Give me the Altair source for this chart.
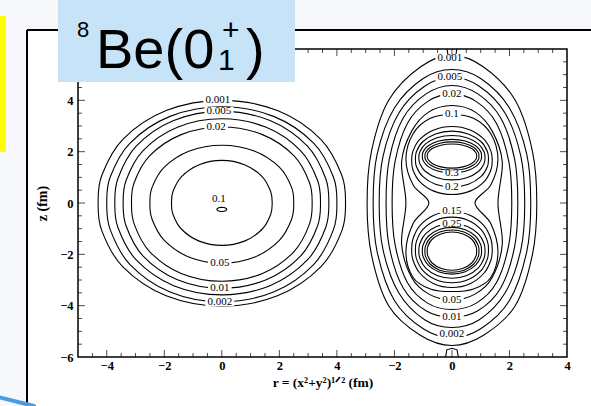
import altair as alt
import pandas as pd
import numpy as np

# ---------------- contour data (fm) ----------------
# left panel: near-elliptical contours, (level, half-width, top z, bottom z)
left_levels = ["0.001", "0.002", "0.005", "0.01", "0.02", "0.05", "0.1"]
left_halfwidth = [4.30, 4.00, 3.72, 3.43, 3.14, 2.50, 1.75]
left_top = [4.00, 3.75, 3.57, 3.28, 2.96, 2.25, 1.66]
left_bottom = [-4.02, -3.85, -3.58, -3.32, -3.05, -2.35, -1.65]

# right panel: outer contours, right half from top to bottom (x, z)
right_outer = {
    "0.001": [(0, 5.75), (1.1, 5.3), (2.2, 4.0), (2.8, 2.0), (2.95, 0), (2.8, -2.0), (2.2, -4.0), (1.1, -5.15), (0, -5.55)],
    "0.002": [(0, 5.2), (1.0, 4.85), (2.0, 3.7), (2.6, 1.9), (2.74, 0), (2.6, -1.9), (2.0, -3.8), (1.0, -4.9), (0, -5.25)],
    "0.005": [(0, 4.9), (0.95, 4.55), (1.85, 3.5), (2.4, 1.8), (2.53, 0), (2.4, -1.8), (1.85, -3.5), (0.95, -4.55), (0, -4.85)],
    "0.01": [(0, 4.58), (0.9, 4.25), (1.7, 3.3), (2.18, 1.7), (2.29, 0), (2.18, -1.7), (1.7, -3.3), (0.9, -4.2), (0, -4.45)],
    "0.02": [(0, 4.25), (0.85, 3.95), (1.55, 3.1), (1.98, 1.6), (2.08, 0), (1.98, -1.6), (1.55, -3.1), (0.85, -3.9), (0, -4.15)],
    "0.05": [(0, 3.8), (0.8, 3.55), (1.4, 2.8), (1.75, 1.6), (1.6, 0), (1.75, -1.6), (1.4, -2.9), (0.8, -3.55), (0, -3.78)],
    "0.1": [(0, 3.45), (0.75, 3.3), (1.35, 2.7), (1.6, 1.7), (1.35, 0.7), (0.8, 0), (1.35, -0.8), (1.6, -1.9), (1.35, -2.9), (0.75, -3.35), (0, -3.45)],
}

# right panel: closed rings around the two alpha clusters (top z, bottom z, half-width)
ring_levels = ["0.15", "0.2", "0.25", "0.3", "0.35", "0.4"]
upper_top = [2.98, 2.80, 2.63, 2.48, 2.38, 2.30]
upper_bottom = [0.33, 0.62, 0.90, 1.17, 1.27, 1.36]
lower_top = [-0.33, -0.55, -0.80, -0.95, -1.05, -1.13]
lower_bottom = [-3.29, -3.11, -2.93, -2.77, -2.70, -2.62]
ring_halfwidth = [1.40, 1.27, 1.15, 1.03, 0.94, 0.86]

# small fragments touching the top and bottom edges of the right panel
edge_bits = {
    "top": [(0.17, 6.0), (0.14, 5.78), (0, 5.72), (-0.14, 5.78), (-0.17, 6.0)],
    "bottom": [(0.22, -6.0), (0.18, -5.72), (0, -5.66), (-0.18, -5.72), (-0.22, -6.0)],
}
# tiny peak contour at the centre of the left panel (x, z, half-width, half-height)
peak = (0.0, -0.25, 0.17, 0.08)

# right panel is drawn after the left one on a shared axis
right_shift = 8.0

# contour labels: (text, x, z) ; right-panel x before shifting
left_labels = [("0.001", -0.14, 4.0), ("0.005", -0.1, 3.57), ("0.02", -0.2, 2.96),
               ("0.1", -0.1, 0.14), ("0.05", -0.07, -2.35), ("0.01", -0.07, -3.32),
               ("0.002", -0.07, -3.86)]
right_labels = [("0.001", -0.07, 5.63), ("0.005", -0.07, 4.89), ("0.02", 0.0, 4.25),
                ("0.1", 0.0, 3.45), ("0.3", 0.0, 1.17), ("0.2", 0.0, 0.62),
                ("0.15", 0.0, -0.33), ("0.25", 0.0, -0.80), ("0.05", 0.0, -3.78),
                ("0.01", 0.0, -4.45), ("0.002", 0.0, -5.12)]

# outline used for the rounded contours: right half, top to bottom (fraction of half-width, of half-height)
outline = [(0, 1), (0.45, 0.9), (0.8, 0.62), (0.97, 0.27), (1, 0), (0.97, -0.27), (0.8, -0.62), (0.45, -0.9), (0, -1)]


def mirror(half):
    """Right half (top->bottom) -> closed loop."""
    left = [(-x, z) for x, z in reversed(half) if x != 0]
    return list(half) + left


def rounded(cx, top, bottom, hw):
    c = (top + bottom) / 2
    h = (top - bottom) / 2
    return mirror([(cx + fx * hw, c + fz * h) for fx, fz in outline])


rows = []


def add(key, pts, shift=0.0):
    for i, (x, z) in enumerate(pts):
        rows.append({"key": key, "idx": i, "xp": x + shift, "z": z})


for lev, a, t, b in zip(left_levels, left_halfwidth, left_top, left_bottom):
    half = [(fx * a, fz * (t if fz > 0 else -b)) for fx, fz in outline]
    add("L" + lev, mirror(half))
add("Lpeak", rounded(peak[0], peak[1] + peak[3], peak[1] - peak[3], peak[2]))
for lev, half in right_outer.items():
    add("R" + lev, mirror(half), right_shift)
for lev, t, b, w in zip(ring_levels, upper_top, upper_bottom, ring_halfwidth):
    add("U" + lev, rounded(0, t, b, w), right_shift)
for lev, t, b, w in zip(ring_levels, lower_top, lower_bottom, ring_halfwidth):
    add("D" + lev, rounded(0, t, b, w), right_shift)

contours = pd.DataFrame(rows)
edges_rows = []
for k, pts in edge_bits.items():
    for i, (x, z) in enumerate(pts):
        edges_rows.append({"key": k, "idx": i, "xp": x + right_shift, "z": z})
edges = pd.DataFrame(edges_rows)

labels = pd.DataFrame(
    [{"t": t, "xp": x, "z": z} for t, x, z in left_labels]
    + [{"t": t, "xp": x + right_shift, "z": z} for t, x, z in right_labels]
)

# ---------------- axes ----------------
W, H = 489, 308
xscale = alt.Scale(domain=[-5, 12], nice=False, zero=False)
yscale = alt.Scale(domain=[-6, 6], nice=False, zero=False)
x_label_values = [-4, -2, 0, 2, 4, 6, 8, 10, 12]
y_label_values = [-6, -4, -2, 0, 2, 4]

xt = np.arange(-4.5, 12.0, 0.5)
yt = np.arange(-5.5, 6.0, 0.5)
xticks = pd.DataFrame({"v": xt, "major": [abs(v - round(v)) < 1e-9 and round(v) % 2 == 0 for v in xt]})
yticks = pd.DataFrame({"v": yt, "major": [abs(v - round(v)) < 1e-9 and round(v) % 2 == 0 for v in yt]})

serif = "Liberation Serif"

xaxis = alt.Axis(
    values=x_label_values, ticks=False, domain=False, grid=False,
    labelExpr="datum.value > 5 ? format(datum.value - 8, 'd') : format(datum.value, 'd')",
    labelFont=serif, labelFontWeight="bold", labelFontSize=12.5, labelColor="black",
    labelPadding=2, labelFlush=False,
    title="r = (x²+y²)¹ᐟ²  (fm)", titleFont=serif, titleFontWeight="bold",
    titleFontSize=13.5, titleColor="black", titlePadding=4)
yaxis = alt.Axis(
    values=y_label_values, ticks=False, domain=False, grid=False,
    labelFont=serif, labelFontWeight="bold", labelFontSize=12.5, labelColor="black",
    labelPadding=5, labelFlush=False,
    title="z (fm)", titleFont=serif, titleFontWeight="bold",
    titleFontSize=14, titleColor="black", titlePadding=10)


def X(field):
    return alt.X(field, scale=xscale, axis=xaxis)


def Y(field):
    return alt.Y(field, scale=yscale, axis=yaxis)


contour_layer = alt.Chart(contours).mark_line(
    interpolate="cardinal-closed", color="black", strokeWidth=1.1
).encode(x=X("xp:Q"), y=Y("z:Q"), detail="key:N", order="idx:Q")

edge_layer = alt.Chart(edges).mark_line(color="black", strokeWidth=1.1).encode(
    x=X("xp:Q"), y=Y("z:Q"), detail="key:N", order="idx:Q")

# white box under each contour label so the line breaks around the number
label_box = alt.Chart(labels).transform_calculate(
    boxsize="pow(length(datum.t) * 5.4 + 2, 2)"
).mark_point(
    shape="M-1,-0.3L1,-0.3L1,0.3L-1,0.3Z", filled=True, color="white", opacity=1, strokeWidth=0
).encode(x=X("xp:Q"), y=Y("z:Q"), size=alt.Size("boxsize:Q", scale=None, legend=None))

text = alt.Chart(labels).mark_text(font=serif, fontSize=11, color="black").encode(
    x=X("xp:Q"), y=Y("z:Q"), text="t:N")


def tick_layers(df, side):
    out = []
    for major, size in [(True, 7), (False, 4)]:
        sub = df[df["major"] == major]
        if side in ("bottom", "top"):
            edge = -6 if side == "bottom" else 6
            off = -size / 2 if side == "bottom" else size / 2
            out.append(alt.Chart(sub).mark_tick(orient="vertical", size=size, thickness=1,
                                                color="black", yOffset=off).encode(
                x=X("v:Q"), y=alt.YDatum(edge, scale=yscale, axis=yaxis)))
        else:
            edge = -5 if side == "left" else 12
            off = size / 2 if side == "left" else -size / 2
            out.append(alt.Chart(sub).mark_tick(orient="horizontal", size=size, thickness=1,
                                                color="black", xOffset=off).encode(
                y=Y("v:Q"), x=alt.XDatum(edge, scale=xscale, axis=xaxis)))
    return out


ticks = (tick_layers(xticks, "bottom") + tick_layers(xticks, "top")
         + tick_layers(yticks, "left") + tick_layers(yticks, "right"))

# ---------------- slide decorations (pixel positions relative to the plot area) ----------------
one = pd.DataFrame({"a": [0]})
band = "#f6f8fb"


def box(x, x2, y, y2, color, **kw):
    return alt.Chart(one).mark_rect(color=color, **kw).encode(
        x=alt.value(x), x2=alt.value(x2), y=alt.value(y), y2=alt.value(y2))


deco = [
    box(-78, 513, -49, -19, band),
    box(-78, -51, -49, 357, band),
    alt.Chart(one).mark_rule(color="black", strokeWidth=2).encode(
        x=alt.value(-51), x2=alt.value(513), y=alt.value(-19)),
    alt.Chart(one).mark_rule(color="black", strokeWidth=2).encode(
        x=alt.value(-51), y=alt.value(-19), y2=alt.value(357)),
    box(-78, -72, -33, 103, "#ffff00"),
    alt.Chart(one).mark_rule(color="#4a9be0", strokeWidth=4, strokeCap="round").encode(
        x=alt.value(-80), x2=alt.value(-44), y=alt.value(348), y2=alt.value(357)),
]

title_box = box(-20, 217, -49, 33, "#c6e3f8")
sans = "Liberation Sans"


def piece(s, x, y, size):
    return alt.Chart(one).mark_text(text=s, font=sans, fontSize=size, align="left",
                                    baseline="alphabetic", color="black").encode(
        x=alt.value(x), y=alt.value(y))


title_parts = [
    piece("8", -1, -12, 22),
    piece("Be(0", 18, 19, 56),
    piece("1", 140, 21, 30),
    piece("+", 144, -9, 30),
    piece(")", 168, 19, 56),
]

chart = alt.layer(
    contour_layer, edge_layer, label_box, text, *ticks, *deco, title_box, *title_parts
).properties(
    width=W, height=H,
    autosize=alt.AutoSizeParams(type="none"),
    padding={"left": 78, "top": 49, "right": 24, "bottom": 49},
    background="white",
).configure_view(stroke="black", strokeWidth=1.5, fill="white")

chart.save("out.html", embed_options={"renderer": "svg", "actions": False})
